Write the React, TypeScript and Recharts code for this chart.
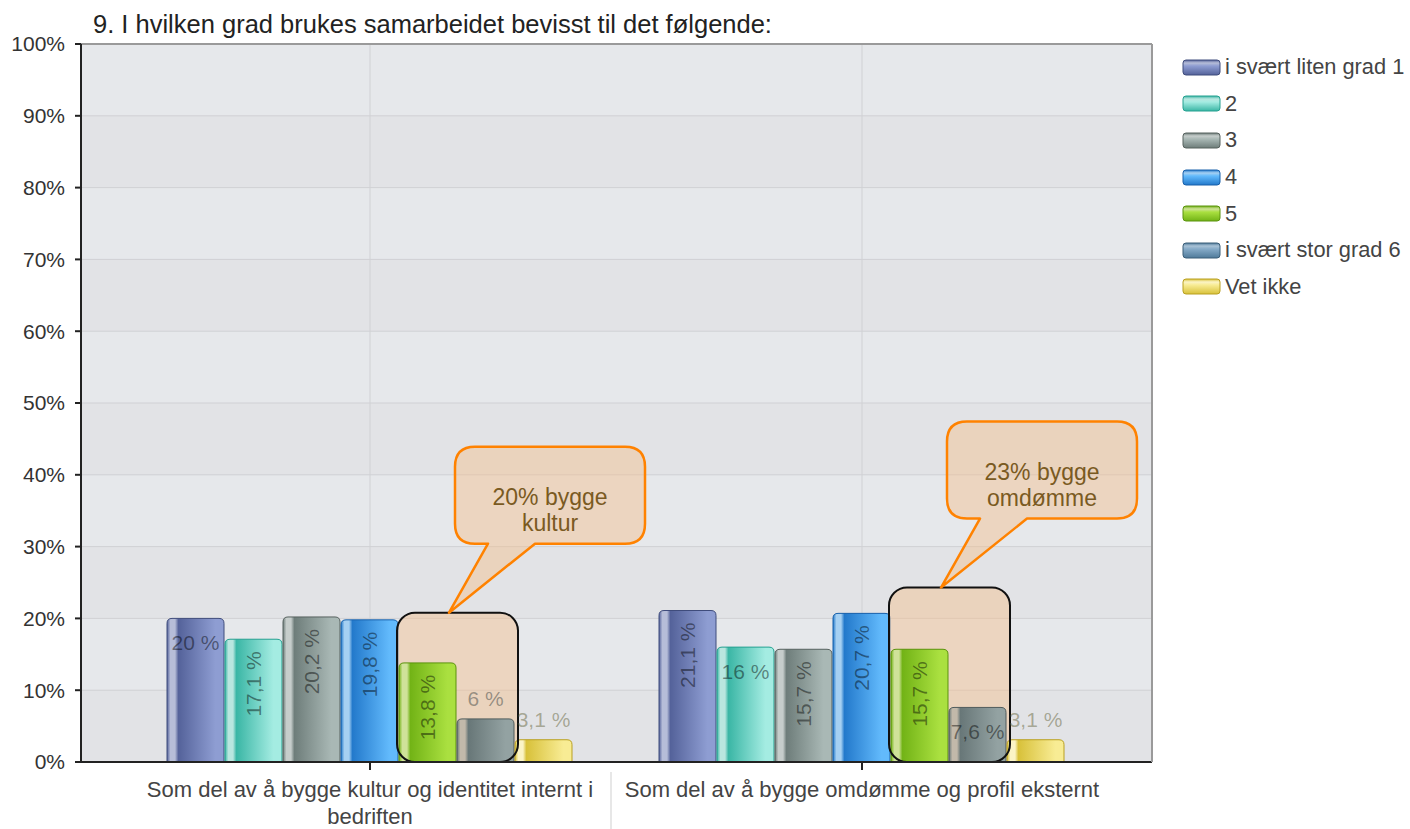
import React from "react";
import {
  Bar,
  BarChart,
  CartesianGrid,
  LabelList,
  Legend,
  ReferenceLine,
  XAxis,
  YAxis,
} from "recharts";

const CATEGORIES = [
  "Som del av å bygge kultur og identitet internt i bedriften",
  "Som del av å bygge omdømme og profil eksternt",
];
const SERIES = ["i svært liten grad 1", "2", "3", "4", "5", "i svært stor grad 6", "Vet ikke"];
const INTERNAL = [20, 17.1, 20.2, 19.8, 13.8, 6, 3.1];
const EXTERNAL = [21.1, 16, 15.7, 20.7, 15.7, 7.6, 3.1];
const Y_TICKS = [0, 10, 20, 30, 40, 50, 60, 70, 80, 90, 100];
// the two boxed series ("5" and "i svært stor grad 6") and the callout text per category
const BOXED = [4, 5];
const CALLOUTS = [
  ["20% bygge", "kultur"],
  ["23% bygge", "omdømme"],
];

const FONT = "'Liberation Sans', Arial, Helvetica, sans-serif";
const BAR_GAP = 1;
const BOX_HEADROOM = 1; // in % units above the boxed bars
const TICK_FONT = 22;
const TICK_WRAP = 480;

const PALETTE = [
  { edge: "#3f4c7c", dark: "#54629a", light: "#8e9dd2", hl: "#b6bdd8", ink: "#1c2440" },
  { edge: "#25a090", dark: "#3ab6a5", light: "#a4ece2", hl: "#b9e6df", ink: "#10403a" },
  { edge: "#57625f", dark: "#6e7d7a", light: "#a9b8b5", hl: "#c6cdcb", ink: "#202828" },
  { edge: "#1860aa", dark: "#2379cb", light: "#62bafc", hl: "#a6d0f2", ink: "#0c2c50" },
  { edge: "#5a930c", dark: "#72b316", light: "#aae040", hl: "#cfe299", ink: "#284008" },
  { edge: "#4f5b5c", dark: "#687778", light: "#93a2a2", hl: "#c2b9aa", ink: "#303838" },
  { edge: "#b9a020", dark: "#d8c13a", light: "#f8ec94", hl: "#fbf4c6", ink: "#5a5a30" },
];
const LEGEND_PALETTE = PALETTE.map((p, i) =>
  i === 5 ? { ...p, edge: "#3b5e78", dark: "#4f7a9a", light: "#86abc8", hl: "#a9c2d6" } : p
);

const key = (i: number) => `k${i}`;

const data = CATEGORIES.map((name, c) => {
  const values = c === 0 ? INTERNAL : EXTERNAL;
  const row: Record<string, any> = { name };
  SERIES.forEach((_, i) => (row[key(i)] = values[i]));
  return row;
});

const fmt = (v: number) => `${String(v).replace(".", ",")} %`;

// greedy word wrap measured with a canvas
let measureCtx: CanvasRenderingContext2D | null = null;
function wrap(text: string, maxWidth: number, font: string) {
  if (!measureCtx) measureCtx = document.createElement("canvas").getContext("2d");
  const ctx = measureCtx!;
  ctx.font = font;
  const lines: string[] = [];
  let cur = "";
  text.split(" ").forEach((w) => {
    const next = cur ? `${cur} ${w}` : w;
    if (cur && ctx.measureText(next).width > maxWidth) {
      lines.push(cur);
      cur = w;
    } else cur = next;
  });
  if (cur) lines.push(cur);
  return lines;
}

function Cylinder({ x, y, width, height, s }: any) {
  const r = Math.min(5, width / 2, height);
  const d = `M${x},${y + height}V${y + r}Q${x},${y} ${x + r},${y}H${x + width - r}Q${x + width},${y} ${x + width},${y + r}V${y + height}Z`;
  return <path d={d} fill={`url(#bar-g-${s})`} stroke={PALETTE[s].edge} strokeWidth={1} />;
}

function boxGeom(payload: any, x5: number, width: number, base: number, ppu: number) {
  const sum = payload[key(BOXED[0])] + payload[key(BOXED[1])] + BOX_HEADROOM;
  const top = base - sum * ppu;
  const left = x5 - 2;
  const right = x5 + 2 * width + BAR_GAP + 4;
  return { left, right, top, bottom: base };
}

function Callout({ box, lines }: any) {
  const w = 190;
  const h = 97;
  const r = 20;
  const L = box.left + 58;
  const T = box.top - 166;
  const R = L + w;
  const B = T + h;
  const b1 = L + 33;
  const b2 = L + 80;
  const tipX = box.left + 52;
  const tipY = box.top;
  const d = `M${L + r},${T}H${R - r}Q${R},${T} ${R},${T + r}V${B - r}Q${R},${B} ${R - r},${B}H${b2}L${tipX},${tipY}L${b1},${B}H${L + r}Q${L},${B} ${L},${B - r}V${T + r}Q${L},${T} ${L + r},${T}Z`;
  const cy = T + h / 2;
  return (
    <g>
      <path d={d} fill="rgb(244,190,140)" fillOpacity={0.45} stroke="#ff8200" strokeWidth={2.5} strokeLinejoin="round" />
      <text textAnchor="middle" fill="#7a5a22" fontSize={23} fontFamily={FONT}>
        <tspan x={(L + R) / 2} y={cy + 10}>{lines[0]}</tspan>
        <tspan x={(L + R) / 2} y={cy + 36}>{lines[1]}</tspan>
      </text>
    </g>
  );
}

const makeShape = (s: number) => (p: any) => {
  const { x, y, width, height, payload } = p;
  const cat = CATEGORIES.indexOf(payload.name);
  const bar = <Cylinder x={x} y={y} width={width} height={height} s={s} />;
  const base = y + height;
  const ppu = height / payload[key(s)];
  if (s === BOXED[0]) {
    const b = boxGeom(payload, x, width, base, ppu);
    return (
      <g>
        <rect x={b.left} y={b.top} width={b.right - b.left} height={b.bottom - b.top} rx={18} fill="rgb(244,190,140)" fillOpacity={0.45} />
        {bar}
      </g>
    );
  }
  if (s === SERIES.length - 1) {
    const x5 = x - 2 * (width + BAR_GAP);
    const b = boxGeom(payload, x5, width, base, ppu);
    return (
      <g>
        {bar}
        <rect x={b.left} y={b.top} width={b.right - b.left} height={b.bottom - b.top} rx={18} fill="none" stroke="#111" strokeWidth={2} />
        <Callout box={b} lines={CALLOUTS[cat]} />
      </g>
    );
  }
  return bar;
};

const makeLabel = (s: number) => (p: any) => {
  const { x, y, width, height, value } = p;
  const text = fmt(value);
  const cx = x + width / 2;
  const common = { fontSize: 21, fontFamily: FONT };
  if (text.length <= 5) {
    if (height > 48) {
      return (
        <text x={cx} y={y + 24} textAnchor="middle" dominantBaseline="central" fill="#000" fillOpacity={0.45} {...common}>
          {text}
        </text>
      );
    }
    return (
      <text x={cx} y={y - 20} textAnchor="middle" dominantBaseline="central" fill={PALETTE[s].ink} fillOpacity={0.45} {...common}>
        {text}
      </text>
    );
  }
  const ty = y + 12;
  return (
    <text
      x={cx}
      y={ty}
      transform={`rotate(-90 ${cx} ${ty})`}
      textAnchor="end"
      dominantBaseline="central"
      fill="#000"
      fillOpacity={0.45}
      {...common}
    >
      {text}
    </text>
  );
};

function CategoryTick(props: any) {
  const { x, y, payload, index } = props;
  const half = payload.offset ?? 246;
  const lines = wrap(String(payload.value), TICK_WRAP, `${TICK_FONT}px ${FONT}`);
  return (
    <g>
      <text textAnchor="middle" fill="#444" fontSize={TICK_FONT} fontFamily={FONT}>
        {lines.map((l, i) => (
          <tspan key={i} x={x} y={y + 25 + i * 27}>
            {l}
          </tspan>
        ))}
      </text>
      {index === 0 && <line x1={x + half - 5} x2={x + half - 5} y1={y} y2={829} stroke="#cfcfcf" />}
    </g>
  );
}

function LegendList() {
  return (
    <div style={{ display: "flex", flexDirection: "column", fontFamily: FONT }}>
      {SERIES.map((s, i) => (
        <div key={s} style={{ height: 36.6, display: "flex", alignItems: "center" }}>
          <svg width={39} height={17}>
            <rect x={1} y={1} width={37} height={15} rx={3} fill={`url(#leg-g-${i})`} stroke={LEGEND_PALETTE[i].edge} />
          </svg>
          <span style={{ marginLeft: 4, fontSize: 21.8, color: "#444", whiteSpace: "nowrap" }}>{s}</span>
        </div>
      ))}
    </div>
  );
}

export default function App() {
  return (
    <div style={{ position: "absolute", left: 0, top: 0, width: 1410, height: 829, background: "#fff", fontFamily: FONT }}>
      <svg width={0} height={0} style={{ position: "absolute" }}>
        <defs>
          {PALETTE.map((c, i) => (
            <linearGradient key={`b${i}`} id={`bar-g-${i}`} x1="0" y1="0" x2="1" y2="0">
              <stop offset="0%" stopColor={c.dark} />
              <stop offset="6%" stopColor={c.hl} />
              <stop offset="14%" stopColor={c.hl} />
              <stop offset="20%" stopColor={c.dark} />
              <stop offset="85%" stopColor={c.light} />
              <stop offset="100%" stopColor={c.light} />
            </linearGradient>
          ))}
          {LEGEND_PALETTE.map((c, i) => (
            <linearGradient key={`l${i}`} id={`leg-g-${i}`} x1="0" y1="0" x2="0" y2="1">
              <stop offset="0%" stopColor={c.dark} />
              <stop offset="20%" stopColor={c.hl} />
              <stop offset="40%" stopColor={c.light} />
              <stop offset="100%" stopColor={c.dark} />
            </linearGradient>
          ))}
        </defs>
      </svg>
      <div style={{ position: "absolute", left: 93, top: 11, fontSize: 25.5, lineHeight: "26px", color: "#222", whiteSpace: "nowrap" }}>
        9. I hvilken grad brukes samarbeidet bevisst til det følgende:
      </div>
      <BarChart
        width={1410}
        height={829}
        data={data}
        margin={{ top: 44, right: 256, bottom: 7, left: 5 }}
        barCategoryGap={43}
        barGap={BAR_GAP}
      >
        <CartesianGrid stroke="#d0d1d4" horizontalFill={["#e6e8eb", "#e2e3e6"]} />
        <XAxis
          dataKey="name"
          padding={{ left: 43, right: 44 }}
          axisLine={{ stroke: "#222", strokeWidth: 2 }}
          tickLine={{ stroke: "#222", strokeWidth: 2 }}
          tickSize={8}
          height={60}
          interval={0}
          tick={<CategoryTick />}
        />
        <YAxis
          domain={[0, 100]}
          ticks={Y_TICKS}
          interval={0}
          tickFormatter={(v: number) => `${v}%`}
          width={76}
          tickSize={6}
          tickMargin={10}
          axisLine={{ stroke: "#222", strokeWidth: 2 }}
          tickLine={{ stroke: "#222", strokeWidth: 2 }}
          tick={{ fontSize: 21, fill: "#333", fontFamily: FONT }}
        />
        <YAxis
          yAxisId="frame"
          orientation="right"
          width={2}
          tick={false}
          tickLine={false}
          axisLine={{ stroke: "#9a9a9a", strokeWidth: 2 }}
        />
        <ReferenceLine y={100} stroke="#9a9a9a" strokeWidth={2} />
        <Legend
          layout="horizontal"
          verticalAlign="middle"
          align="center"
          wrapperStyle={{ left: 1182, top: 49, width: 228 }}
          content={() => <LegendList />}
        />
        {SERIES.map((s, i) => (
          <Bar key={s} dataKey={key(i)} name={s} shape={makeShape(i)} isAnimationActive={false}>
            <LabelList dataKey={key(i)} content={makeLabel(i)} />
          </Bar>
        ))}
      </BarChart>
    </div>
  );
}
